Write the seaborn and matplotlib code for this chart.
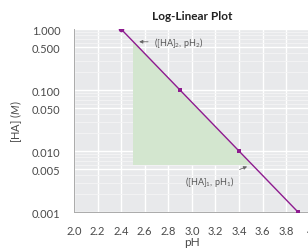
import numpy as np
import pandas as pd
import matplotlib
matplotlib.use('Agg')
import matplotlib.pyplot as plt
import seaborn as sns
from matplotlib.ticker import FixedLocator, LogLocator, NullFormatter

# data
ph = [2.4, 2.9, 3.4, 3.9]
conc = [1.0, 0.1, 0.01, 0.001]
y_ticks = [0.001, 0.005, 0.010, 0.050, 0.100, 0.500, 1.000]
y_tick_labels = ['0.001', '0.005', '0.010', '0.050', '0.100', '0.500', '1.000']
x_ticks = [2.0, 2.2, 2.4, 2.6, 2.8, 3.0, 3.2, 3.4, 3.6, 3.8, 4.0]
x_tick_labels = ['2.0', '2.2', '2.4', '2.6', '2.8', '3.0', '3.2', '3.4', '3.6', '3.8', '4']
shade_ph = [2.5, 2.5, 3.51]
shade_conc = [0.63, 0.006, 0.006]

df = pd.DataFrame({'pH': ph, 'HA': conc})

sns.set_style('white')
plt.rcParams['font.family'] = ['Lato', 'DejaVu Sans']
plt.rcParams['mathtext.fontset'] = 'custom'
plt.rcParams['mathtext.rm'] = 'Lato'
plt.rcParams['mathtext.it'] = 'Lato:style=italic'

fig = plt.figure(figsize=(3.08, 2.51), dpi=100)
ax = fig.add_axes([0.240, 0.151, 0.766, 0.729])
ax.set_facecolor('#e8e9eb')

ax.set_yscale('log')
ax.set_xlim(2.0, 4.0)
ax.set_ylim(0.001, 1.0)

# green shaded triangle
ax.fill(shade_ph, shade_conc, color='#d3e6cf', zorder=1, lw=0)

# grid
ax.yaxis.set_minor_locator(LogLocator(base=10, subs=np.arange(2, 10)))
ax.yaxis.set_minor_formatter(NullFormatter())
ax.grid(which='major', axis='both', color='white', lw=1.0, zorder=0)
ax.grid(which='minor', axis='y', color='#f4f4f5', lw=0.6, zorder=0)
ax.set_axisbelow(True)

sns.lineplot(data=df, x='pH', y='HA', ax=ax, color='#8e1b8f', lw=1.0, zorder=3)
sns.scatterplot(data=df.iloc[:1], x='pH', y='HA', ax=ax, color='#8e1b8f',
                marker='o', s=16, linewidth=0, zorder=4)
sns.scatterplot(data=df.iloc[1:], x='pH', y='HA', ax=ax, color='#8e1b8f',
                marker='s', s=12, linewidth=0, zorder=4)

ax.yaxis.set_major_locator(FixedLocator(y_ticks))
ax.set_yticklabels(y_tick_labels)
ax.set_xticks(x_ticks)
ax.set_xticklabels(x_tick_labels)
ax.tick_params(axis='both', which='major', length=6, width=0.7, color='#8a8a8a',
               labelsize=8, labelcolor='#4a4a4a', direction='out', pad=3.5)
ax.tick_params(axis='y', which='minor', length=0)

for side in ['top', 'right']:
    ax.spines[side].set_visible(False)
for side in ['left', 'bottom']:
    ax.spines[side].set_color('#aaaaaa')
    ax.spines[side].set_linewidth(0.7)

ax.set_xlabel('pH', fontsize=8.5, color='#4a4a4a', labelpad=0)
ax.set_ylabel('[HA] ($\\mathit{M}$)', fontsize=8, color='#4a4a4a', labelpad=6)
ax.set_title('Log-Linear Plot', fontsize=8.5, fontweight='bold', color='#222222', pad=7)

# annotations
ax.annotate('([HA]$_2$, pH$_2$)', xy=(2.53, 0.62), xytext=(2.68, 0.62),
            fontsize=6.5, color='#555555', va='center', ha='left',
            arrowprops=dict(arrowstyle='-|>', color='#666666', lw=0.6, mutation_scale=5))
ax.annotate('([HA]$_1$, pH$_1$)', xy=(3.49, 0.0058), xytext=(3.15, 0.0032),
            fontsize=6.5, color='#555555', va='center', ha='center',
            arrowprops=dict(arrowstyle='-|>', color='#666666', lw=0.6, mutation_scale=5,
                            shrinkA=3))

fig.savefig('out.png', dpi=100)
